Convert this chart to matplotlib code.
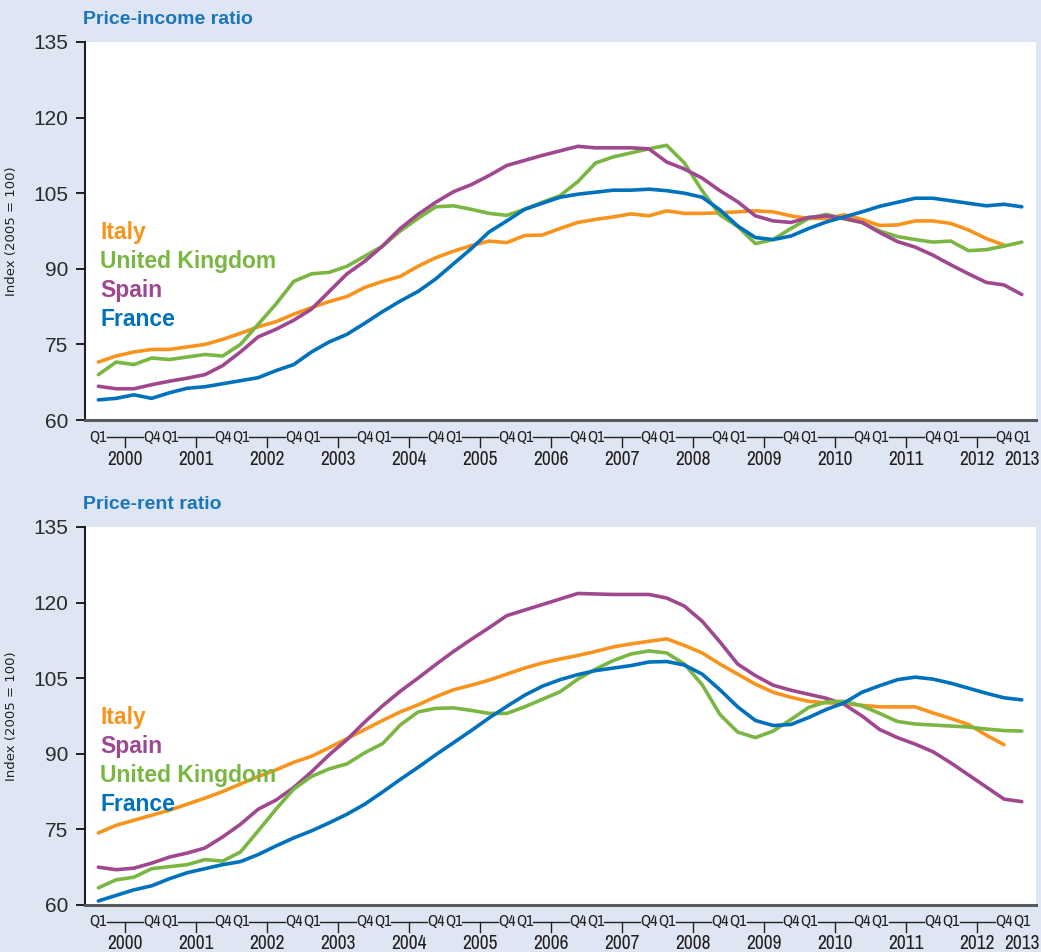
import numpy as np
import matplotlib
matplotlib.use("Agg")
import matplotlib.pyplot as plt
from matplotlib import font_manager

# quarterly series, 2000 Q1 .. 2013 Q1 (index 2005 = 100)
quarters = np.arange(53)
years = list(range(2000, 2014))

# --- Price-income ratio ---
inc_italy = [71.5, 72.7, 73.5, 74.0, 74.0, 74.5, 75.0, 76.0, 77.2, 78.5, 79.5, 81.0, 82.3, 83.5,
             84.5, 86.3, 87.5, 88.5, 90.5, 92.2, 93.5, 94.6, 95.5, 95.2, 96.6, 96.7, 98.0, 99.2,
             99.8, 100.3, 100.9, 100.5, 101.5, 101.0, 101.0, 101.1, 101.3, 101.5, 101.3, 100.5,
             100.0, 100.0, 100.7, 99.8, 98.6, 98.7, 99.5, 99.5, 99.0, 97.7, 96.0, 94.7]
inc_uk = [69.0, 71.5, 71.0, 72.3, 72.0, 72.5, 73.0, 72.7, 75.0, 79.0, 83.0, 87.5, 89.0, 89.3,
          90.5, 92.5, 94.5, 97.5, 100.0, 102.3, 102.5, 101.8, 101.0, 100.6, 101.8, 103.2, 104.5,
          107.3, 111.0, 112.2, 113.0, 113.8, 114.5, 111.0, 105.5, 100.7, 98.4, 95.0, 95.8, 98.0,
          100.0, 100.8, 99.9, 99.2, 97.5, 96.4, 95.8, 95.3, 95.5, 93.6, 93.8, 94.5, 95.3]
inc_spain = [66.7, 66.2, 66.2, 67.0, 67.7, 68.3, 69.0, 70.8, 73.5, 76.5, 78.0, 79.8, 82.0, 85.5,
             89.0, 91.5, 94.5, 98.0, 100.8, 103.2, 105.3, 106.7, 108.5, 110.5, 111.5, 112.5,
             113.4, 114.3, 114.0, 114.0, 114.0, 113.8, 111.2, 109.8, 108.0, 105.5, 103.3, 100.5,
             99.5, 99.2, 100.2, 100.5, 100.0, 99.2, 97.2, 95.4, 94.3, 92.7, 90.8, 89.0, 87.3,
             86.8, 84.9]
inc_france = [64.0, 64.3, 65.0, 64.3, 65.4, 66.3, 66.6, 67.2, 67.8, 68.4, 69.8, 71.0, 73.5, 75.5,
              77.0, 79.2, 81.5, 83.6, 85.5, 88.0, 91.0, 94.0, 97.3, 99.5, 101.8, 103.0, 104.2,
              104.8, 105.2, 105.6, 105.6, 105.8, 105.5, 105.0, 104.2, 101.7, 98.5, 96.2, 95.8,
              96.5, 98.0, 99.3, 100.3, 101.3, 102.4, 103.2, 104.0, 104.0, 103.5, 103.0, 102.5,
              102.8, 102.3]

# --- Price-rent ratio ---
rent_italy = [74.3, 75.8, 76.8, 77.8, 78.8, 80.0, 81.2, 82.5, 84.0, 85.5, 86.8, 88.3, 89.5, 91.2,
              93.0, 94.8, 96.6, 98.3, 99.7, 101.3, 102.7, 103.6, 104.6, 105.8, 107.0, 108.0,
              108.8, 109.5, 110.3, 111.2, 111.8, 112.3, 112.8, 111.5, 110.0, 107.8, 105.8, 103.8,
              102.2, 101.2, 100.4, 100.1, 100.0, 99.6, 99.3, 99.3, 99.3, 98.1, 97.0, 95.8, 93.7,
              91.8]
rent_spain = [67.5, 67.0, 67.3, 68.3, 69.5, 70.3, 71.3, 73.5, 76.0, 79.0, 80.8, 83.3, 86.4, 89.8,
              92.8, 96.3, 99.5, 102.4, 105.0, 107.7, 110.3, 112.7, 115.0, 117.4, 118.5, 119.6,
              120.7, 121.8, 121.7, 121.6, 121.6, 121.6, 120.9, 119.3, 116.3, 112.2, 107.8, 105.5,
              103.6, 102.6, 101.8, 101.0, 99.8, 97.5, 94.8, 93.2, 91.9, 90.4, 88.2, 85.8, 83.4,
              81.0, 80.5]
rent_uk = [63.4, 65.0, 65.5, 67.2, 67.6, 68.0, 69.0, 68.7, 70.5, 74.7, 79.0, 83.0, 85.5, 87.0,
           88.0, 90.2, 92.0, 95.7, 98.3, 99.0, 99.1, 98.6, 98.0, 98.0, 99.3, 100.8, 102.3, 104.8,
           106.8, 108.5, 109.8, 110.4, 110.0, 107.8, 103.7, 97.8, 94.3, 93.2, 94.5, 96.8, 99.2,
           100.3, 100.4, 99.5, 98.0, 96.4, 95.9, 95.7, 95.5, 95.3, 94.9, 94.6, 94.5]
rent_france = [60.8, 61.9, 63.0, 63.8, 65.2, 66.4, 67.2, 68.0, 68.6, 70.0, 71.7, 73.3, 74.7, 76.3,
               78.0, 80.0, 82.4, 84.9, 87.3, 89.8, 92.2, 94.6, 97.1, 99.4, 101.6, 103.4, 104.7,
               105.7, 106.5, 107.0, 107.5, 108.2, 108.3, 107.6, 105.8, 102.7, 99.3, 96.6, 95.6,
               95.8, 97.2, 98.8, 100.1, 102.2, 103.5, 104.7, 105.2, 104.8, 104.0, 103.0, 102.0,
               101.1, 100.7]

C_ITALY = "#f7941d"
C_UK = "#7ab642"
C_SPAIN = "#a0488f"
C_FRANCE = "#0071bc"
BG = "#dfe6f3"
TITLE_BLUE = "#1a75bb"
TXT = "#231f20"

panels = [
    ("Price-income ratio",
     [("Italy", inc_italy, C_ITALY), ("United Kingdom", inc_uk, C_UK),
      ("Spain", inc_spain, C_SPAIN), ("France", inc_france, C_FRANCE)]),
    ("Price-rent ratio",
     [("Italy", rent_italy, C_ITALY), ("Spain", rent_spain, C_SPAIN),
      ("United Kingdom", rent_uk, C_UK), ("France", rent_france, C_FRANCE)]),
]


# look for a narrow face for the quarter labels
def find_narrow():
    for f in font_manager.fontManager.ttflist:
        if "Narrow" in f.name and f.weight in (400, "normal", "regular"):
            return dict(family=f.name, stretch=None, size=11.5)
    for f in font_manager.fontManager.ttflist:
        if f.name == "DejaVu Sans" and f.stretch in ("condensed", "semi-condensed"):
            return dict(family="DejaVu Sans", stretch="condensed", size=10)
    return dict(family="DejaVu Sans", stretch=None, size=8.5)


narrow = find_narrow()

fig = plt.figure(figsize=(10.41, 9.52), dpi=100, facecolor=BG)
axes_rects = [[0.0817, 0.5588, 0.9135, 0.3971], [0.0817, 0.0494, 0.9135, 0.3971]]

px = 1.0 / 378.0  # one pixel in axes-fraction units (axes are 378 px tall)

for rect, (title, series) in zip(axes_rects, panels):
    ax = fig.add_axes(rect)
    ax.set_facecolor("white")
    for name, vals, col in series:
        ax.plot(quarters[:len(vals)], vals, color=col, lw=2.6, solid_capstyle="round",
                solid_joinstyle="round")

    ax.set_xlim(-0.75, 52.8)
    ax.set_ylim(60, 135)
    ax.set_yticks([60, 75, 90, 105, 120, 135])
    ax.tick_params(axis="y", length=6.5, width=1.4, color=TXT, labelsize=15,
                   labelcolor="#2b2b2b", pad=5.5)
    for lab in ax.get_yticklabels():
        lab.set_fontfamily("Liberation Sans")
    ax.set_xticks([])
    for s in ["top", "right"]:
        ax.spines[s].set_visible(False)
    ax.spines["left"].set_linewidth(1.5)
    ax.spines["left"].set_color(TXT)
    ax.spines["bottom"].set_linewidth(2.2)
    ax.spines["bottom"].set_color("#58595b")

    ax.set_ylabel("Index (2005 = 100)", fontsize=9.5, color=TXT)
    ax.yaxis.set_label_coords(-0.0705, 0.5)

    # title
    ax.text(-0.002, 1.0 + 22 * px, title, transform=ax.transAxes, fontsize=14,
            fontweight="bold", color=TITLE_BLUE, family="Liberation Sans", va="center")

    # inline series labels
    for i, (name, vals, col) in enumerate(series):
        ax.text(0.0158, 0.495 - i * 29 * px, name, transform=ax.transAxes, fontsize=16.5,
                fontweight="bold", color=col, family="Liberation Sans", va="center")

    # custom quarter / year axis
    xt = ax.get_xaxis_transform()
    tk = dict(fontsize=narrow["size"], color=TXT, family=narrow["family"],
              ha="center", va="center", transform=xt, clip_on=False)
    if narrow["stretch"]:
        tk["fontstretch"] = narrow["stretch"]
    yk = dict(tk, fontsize=narrow["size"] + 2.5)
    for k, yr in enumerate(years):
        q1 = 4 * k
        if yr == years[-1]:
            ax.text(q1, -17 * px, "Q1", **tk)
            ax.text(q1, -39 * px, str(yr), **yk)
            continue
        ax.text(q1, -17 * px, "Q1", **tk)
        ax.text(q1 + 3, -17 * px, "Q4", **tk)
        ax.plot([q1 + 0.5, q1 + 2.5], [-17 * px, -17 * px], color=TXT, lw=1.0,
                transform=xt, clip_on=False)
        ax.plot([q1 + 1.5, q1 + 1.5], [-17 * px, -27 * px], color=TXT, lw=1.0,
                transform=xt, clip_on=False)
        ax.text(q1 + 1.5, -39 * px, str(yr), **yk)

fig.savefig("out.png", dpi=100, facecolor=BG)
